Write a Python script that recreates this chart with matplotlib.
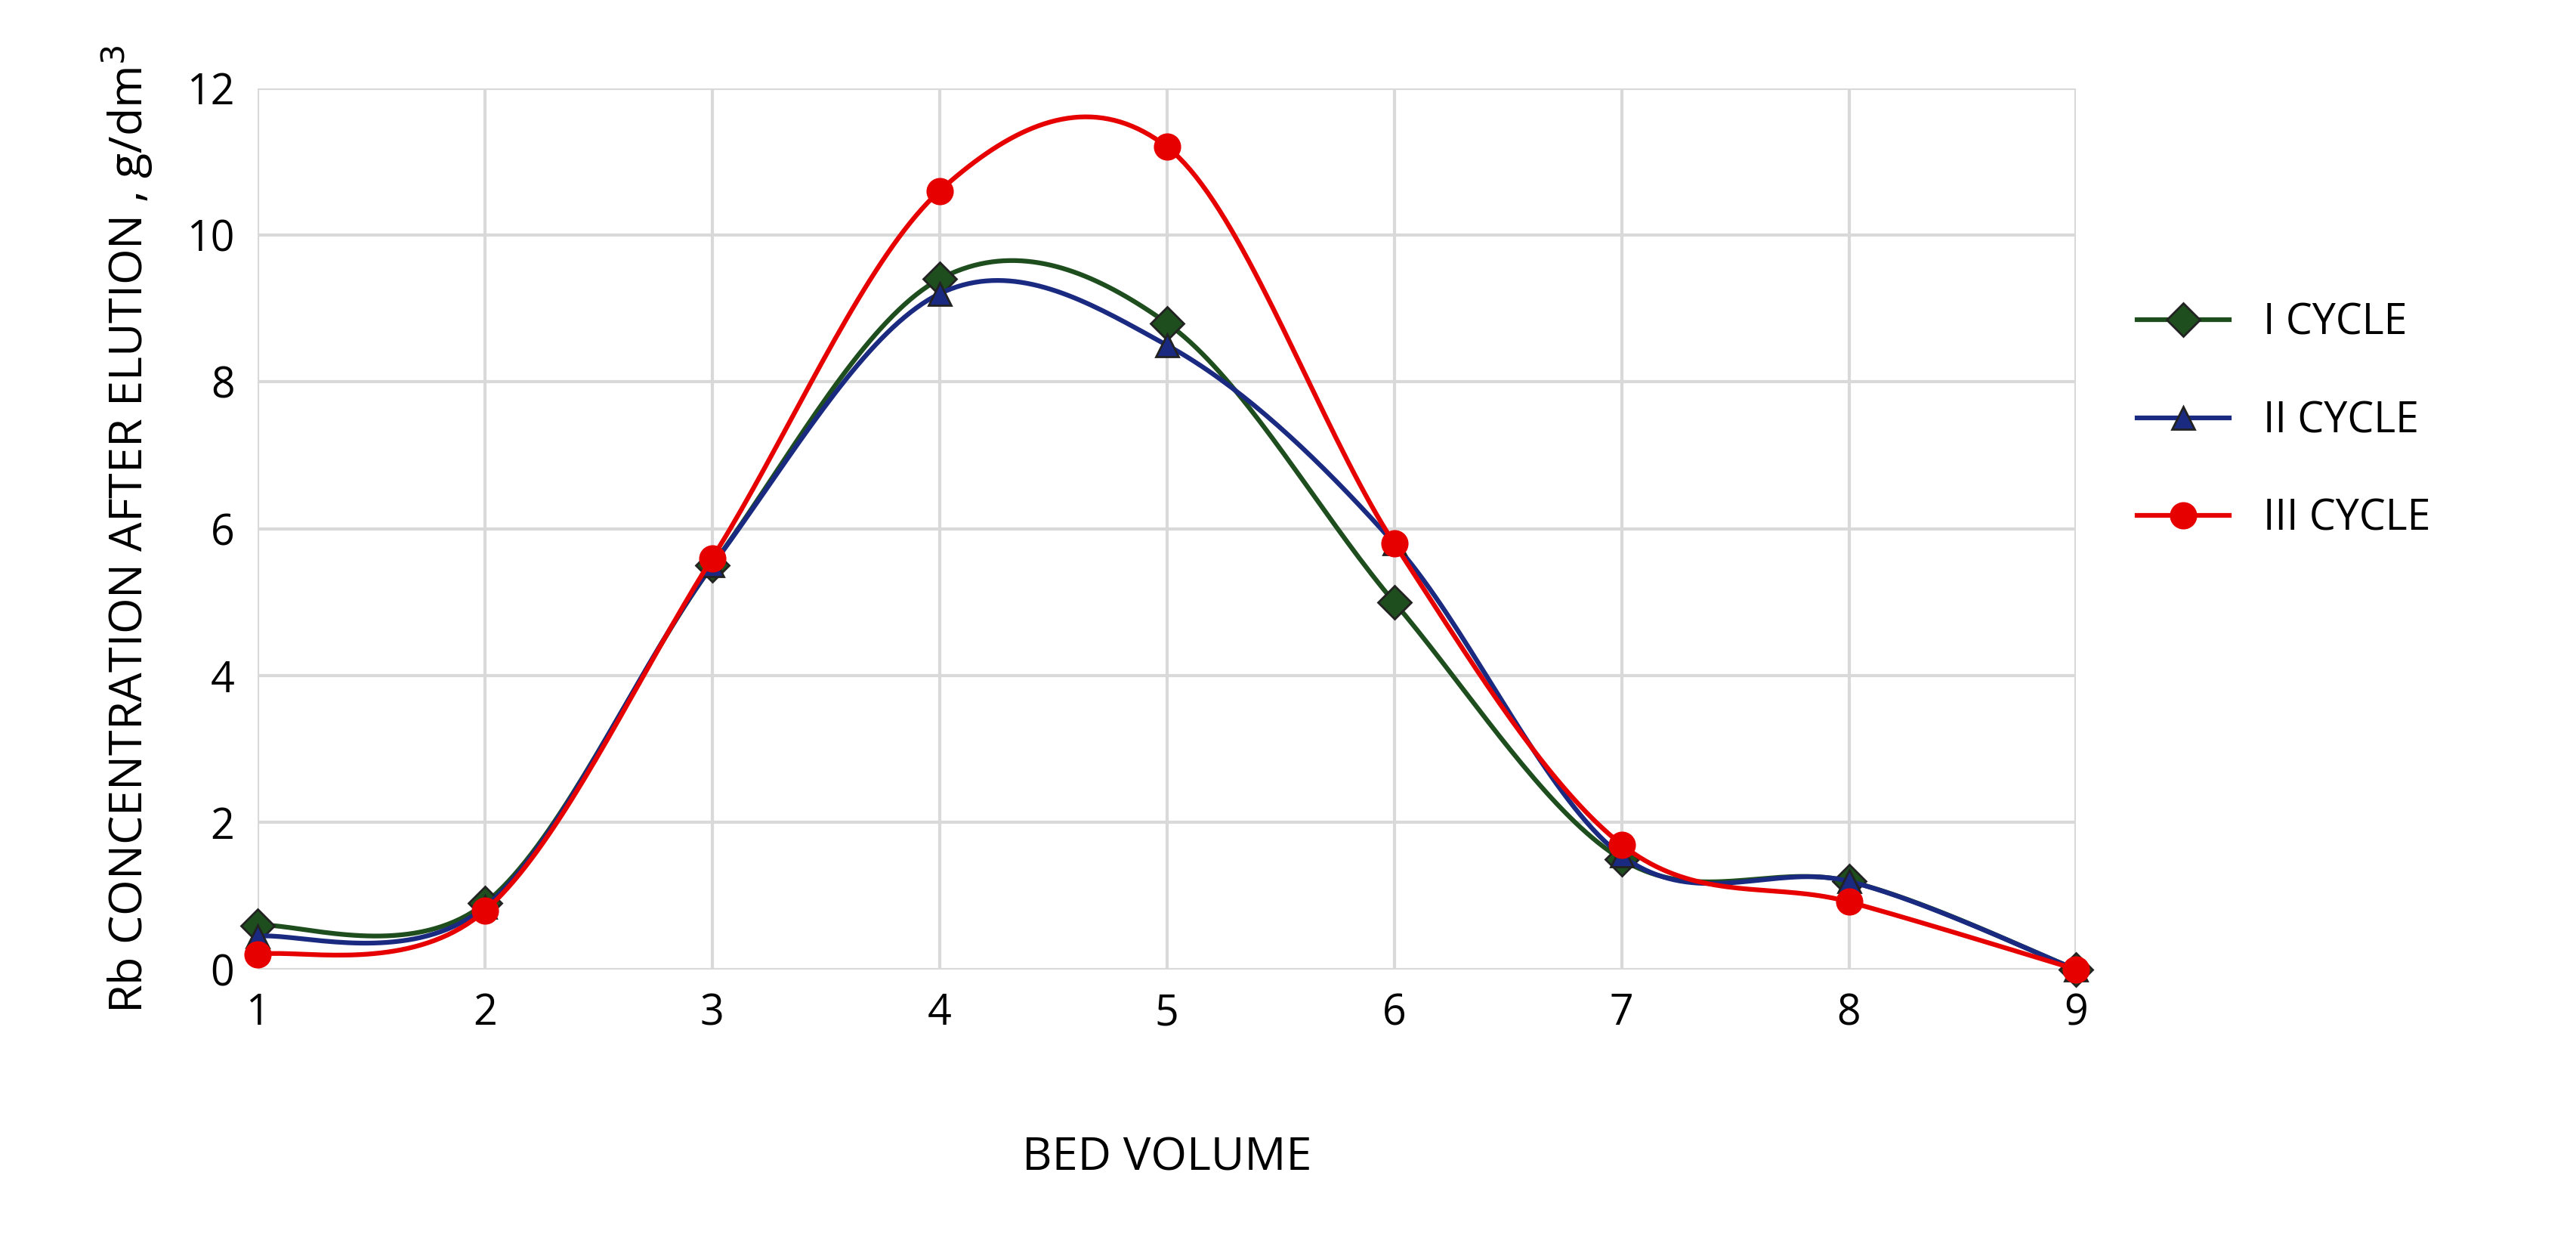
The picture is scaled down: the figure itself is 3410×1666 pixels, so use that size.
import numpy as np
import matplotlib
matplotlib.use("Agg")
import matplotlib.pyplot as plt

plt.rcParams['font.family'] = ['Open Sans', 'DejaVu Sans']

bed_volume = [1, 2, 3, 4, 5, 6, 7, 8, 9]
cycle1 = [0.6, 0.9, 5.5, 9.4, 8.8, 5.0, 1.5, 1.2, 0.0]
cycle2 = [0.45, 0.85, 5.5, 9.2, 8.5, 5.8, 1.55, 1.2, 0.0]
cycle3 = [0.2, 0.8, 5.6, 10.6, 11.2, 5.8, 1.7, 0.92, 0.0]
labels = ["I CYCLE", "II CYCLE", "III CYCLE"]
colors = ["#1e4d1e", "#1a2a80", "#e60000"]
markers = ["D", "^", "o"]

def smooth(x, y, n=40):
    x = np.asarray(x, float); y = np.asarray(y, float)
    xs, ys = [], []
    for i in range(len(x) - 1):
        p0 = np.array([x[max(i-1, 0)], y[max(i-1, 0)]])
        p1 = np.array([x[i], y[i]]); p2 = np.array([x[i+1], y[i+1]])
        p3 = np.array([x[min(i+2, len(x)-1)], y[min(i+2, len(x)-1)]])
        c1 = p1 + (p2 - p0) / 6; c2 = p2 - (p3 - p1) / 6
        t = np.linspace(0, 1, n)[:, None]
        b = (1-t)**3*p1 + 3*(1-t)**2*t*c1 + 3*(1-t)*t**2*c2 + t**3*p2
        xs.extend(b[:, 0]); ys.extend(b[:, 1])
    return xs, ys

fig = plt.figure(figsize=(34.1, 16.66), dpi=100)
ax = fig.add_axes([0.1, 0.23, 0.706, 0.70])
for y, lab, c, m in zip([cycle1, cycle2, cycle3], labels, colors, markers):
    ms = 24 if m == 'o' else 22
    sx, sy = smooth(bed_volume, y)
    ax.plot(sx, sy, color=c, lw=4.5)
    ax.plot(bed_volume, y, ls='none', marker=m, ms=ms, mfc=c, mec='#222222' if m != 'o' else c, mew=2, clip_on=False)
    ax.plot([], [], color=c, lw=4.5, marker=m, ms=ms, mfc=c, mec='#222222' if m != 'o' else c, mew=2, label=lab)

ax.set_xlim(1, 9)
ax.set_ylim(0, 12)
ax.set_xticks(bed_volume)
ax.set_yticks(range(0, 13, 2))
ax.grid(True, color='#d9d9d9', lw=3)
ax.set_axisbelow(True)
for s in ax.spines.values():
    s.set_visible(False)
ax.tick_params(length=0, labelsize=40, pad=22)
ax.set_xlabel("BED VOLUME", fontsize=44, labelpad=95)
ax.set_ylabel("Rb CONCENTRATION AFTER ELUTION , g/dm$^3$", fontsize=44, labelpad=30)
fig.legend(loc='upper left', bbox_to_anchor=(0.815, 0.79), frameon=False, fontsize=40,
           labelspacing=1.3, handlelength=2.2)
fig.savefig("out.png", dpi=100)
